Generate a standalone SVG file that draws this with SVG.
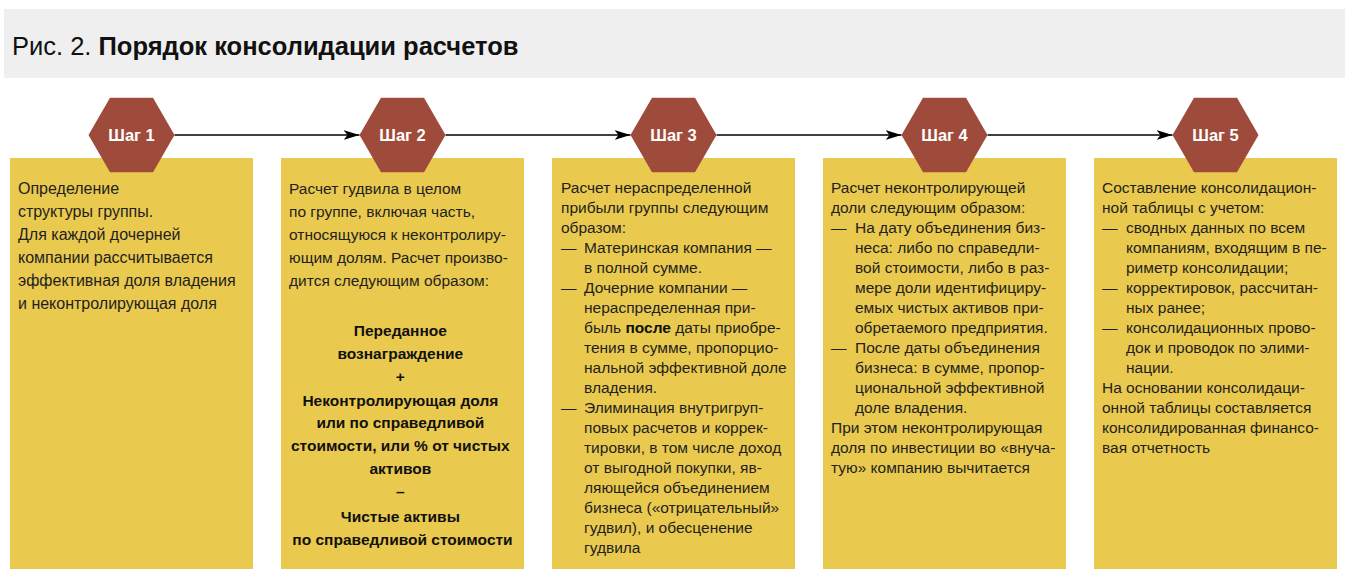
<svg xmlns="http://www.w3.org/2000/svg" width="1348" height="576" viewBox="0 0 1348 576">
<defs>
<style>
.band{fill:#efefef}
.box{fill:#eac94f}
.hex{fill:#9f4b3c}
.lbl{font-family:"Liberation Sans",Arial,sans-serif;font-size:16.5px;font-weight:bold;fill:#ffffff;text-anchor:middle}
.t1{font-family:"Liberation Sans",Arial,sans-serif;font-size:16px;fill:#231f20}
.t2{font-family:"Liberation Sans",Arial,sans-serif;font-size:15.5px;fill:#231f20}
.t3{font-family:"Liberation Sans",Arial,sans-serif;font-size:15.5px;fill:#231f20}
.b{font-family:"Liberation Sans",Arial,sans-serif;font-size:15.5px;font-weight:bold;fill:#111111;text-anchor:middle}
.conn{stroke:#000;stroke-width:1.6;fill:none}
</style>
<marker id="arr" viewBox="0 0 16 10" markerWidth="16" markerHeight="10" refX="16" refY="5" orient="auto" markerUnits="userSpaceOnUse">
<path d="M0,0 L16,5 L0,10 L4,5 Z" fill="#000"/>
</marker>
<polygon id="hexShape" points="-43,0 -21.5,-37.2 21.5,-37.2 43,0 21.5,37.2 -21.5,37.2"/>
</defs>

<g id="header">
<rect class="band" x="4" y="9" width="1341" height="69"/>
<text x="12" y="55" font-family="Liberation Sans,Arial,sans-serif" font-size="25.5" fill="#111">Рис. 2. <tspan font-weight="bold">Порядок консолидации расчетов</tspan></text>
</g>

<g id="connectors">
<line class="conn" x1="174.5" y1="135" x2="359.5" y2="135" marker-end="url(#arr)"/>
<line class="conn" x1="445.5" y1="135" x2="630.5" y2="135" marker-end="url(#arr)"/>
<line class="conn" x1="716.5" y1="135" x2="901.5" y2="135" marker-end="url(#arr)"/>
<line class="conn" x1="987.5" y1="135" x2="1172.5" y2="135" marker-end="url(#arr)"/>
</g>

<g id="step1">
<rect class="box" x="10" y="158" width="243" height="411"/>
<use href="#hexShape" class="hex" x="131.5" y="135"/>
<text class="lbl" x="131.5" y="141">Шаг 1</text>
<text class="t1">
<tspan x="18" y="194">Определение</tspan>
<tspan x="18" y="217">структуры группы.</tspan>
<tspan x="18" y="240">Для каждой дочерней</tspan>
<tspan x="18" y="263">компании рассчитывается</tspan>
<tspan x="18" y="286">эффективная доля владения</tspan>
<tspan x="18" y="309">и неконтролирующая доля</tspan>
</text>
</g>

<g id="step2">
<rect class="box" x="281" y="158" width="243" height="411"/>
<use href="#hexShape" class="hex" x="402.5" y="135"/>
<text class="lbl" x="402.5" y="141">Шаг 2</text>
<text class="t2">
<tspan x="289" y="194">Расчет гудвила в целом</tspan>
<tspan x="289" y="217">по группе, включая часть,</tspan>
<tspan x="289" y="240">относящуюся к неконтролиру-</tspan>
<tspan x="289" y="263">ющим долям. Расчет произво-</tspan>
<tspan x="289" y="286">дится следующим образом:</tspan>
</text>
<text class="b">
<tspan x="402.5" y="336">Переданное</tspan>
<tspan x="402.5" y="359">вознаграждение</tspan>
<tspan x="402.5" y="382">+</tspan>
<tspan x="402.5" y="406">Неконтролирующая доля</tspan>
<tspan x="402.5" y="428">или по справедливой</tspan>
<tspan x="402.5" y="451">стоимости, или % от чистых</tspan>
<tspan x="402.5" y="474">активов</tspan>
<tspan x="402.5" y="497">–</tspan>
<tspan x="402.5" y="522">Чистые активы</tspan>
<tspan x="402.5" y="545">по справедливой стоимости</tspan>
</text>
</g>

<g id="step3">
<rect class="box" x="552" y="158" width="243" height="411"/>
<use href="#hexShape" class="hex" x="673.5" y="135"/>
<text class="lbl" x="673.5" y="141">Шаг 3</text>
<text class="t3">
<tspan x="561" y="193">Расчет нераспределенной</tspan>
<tspan x="561" y="213">прибыли группы следующим</tspan>
<tspan x="561" y="233">образом:</tspan>
<tspan x="561" y="253">—</tspan><tspan x="584" y="253">Материнская компания —</tspan>
<tspan x="584" y="273">в полной сумме.</tspan>
<tspan x="561" y="293">—</tspan><tspan x="584" y="293">Дочерние компании —</tspan>
<tspan x="584" y="313">нераспределенная при-</tspan>
<tspan x="584" y="333">быль <tspan font-weight="bold" fill="#111">после</tspan> даты приобре-</tspan>
<tspan x="584" y="353">тения в сумме, пропорцио-</tspan>
<tspan x="584" y="373">нальной эффективной доле</tspan>
<tspan x="584" y="393">владения.</tspan>
<tspan x="561" y="413">—</tspan><tspan x="584" y="413">Элиминация внутригруп-</tspan>
<tspan x="584" y="433">повых расчетов и коррек-</tspan>
<tspan x="584" y="453">тировки, в том числе доход</tspan>
<tspan x="584" y="473">от выгодной покупки, яв-</tspan>
<tspan x="584" y="493">ляющейся объединением</tspan>
<tspan x="584" y="513">бизнеса («отрицательный»</tspan>
<tspan x="584" y="533">гудвил), и обесценение</tspan>
<tspan x="584" y="553">гудвила</tspan>
</text>
</g>

<g id="step4">
<rect class="box" x="823" y="158" width="243" height="411"/>
<use href="#hexShape" class="hex" x="944.5" y="135"/>
<text class="lbl" x="944.5" y="141">Шаг 4</text>
<text class="t3">
<tspan x="831" y="193">Расчет неконтролирующей</tspan>
<tspan x="831" y="213">доли следующим образом:</tspan>
<tspan x="831" y="233">—</tspan><tspan x="855" y="233">На дату объединения биз-</tspan>
<tspan x="855" y="253">неса: либо по справедли-</tspan>
<tspan x="855" y="273">вой стоимости, либо в раз-</tspan>
<tspan x="855" y="293">мере доли идентифициру-</tspan>
<tspan x="855" y="313">емых чистых активов при-</tspan>
<tspan x="855" y="333">обретаемого предприятия.</tspan>
<tspan x="831" y="353">—</tspan><tspan x="855" y="353">После даты объединения</tspan>
<tspan x="855" y="373">бизнеса: в сумме, пропор-</tspan>
<tspan x="855" y="393">циональной эффективной</tspan>
<tspan x="855" y="413">доле владения.</tspan>
<tspan x="831" y="433">При этом неконтролирующая</tspan>
<tspan x="831" y="453">доля по инвестиции во «внуча-</tspan>
<tspan x="831" y="473">тую» компанию вычитается</tspan>
</text>
</g>

<g id="step5">
<rect class="box" x="1094" y="158" width="243" height="411"/>
<use href="#hexShape" class="hex" x="1215.5" y="135"/>
<text class="lbl" x="1215.5" y="141">Шаг 5</text>
<text class="t3">
<tspan x="1102" y="193">Составление консолидацион-</tspan>
<tspan x="1102" y="213">ной таблицы с учетом:</tspan>
<tspan x="1102" y="233">—</tspan><tspan x="1126" y="233">сводных данных по всем</tspan>
<tspan x="1126" y="253">компаниям, входящим в пе-</tspan>
<tspan x="1126" y="273">риметр консолидации;</tspan>
<tspan x="1102" y="293">—</tspan><tspan x="1126" y="293">корректировок, рассчитан-</tspan>
<tspan x="1126" y="313">ных ранее;</tspan>
<tspan x="1102" y="333">—</tspan><tspan x="1126" y="333">консолидационных прово-</tspan>
<tspan x="1126" y="353">док и проводок по элими-</tspan>
<tspan x="1126" y="373">нации.</tspan>
<tspan x="1102" y="393">На основании консолидаци-</tspan>
<tspan x="1102" y="413">онной таблицы составляется</tspan>
<tspan x="1102" y="433">консолидированная финансо-</tspan>
<tspan x="1102" y="453">вая отчетность</tspan>
</text>
</g>
</svg>
